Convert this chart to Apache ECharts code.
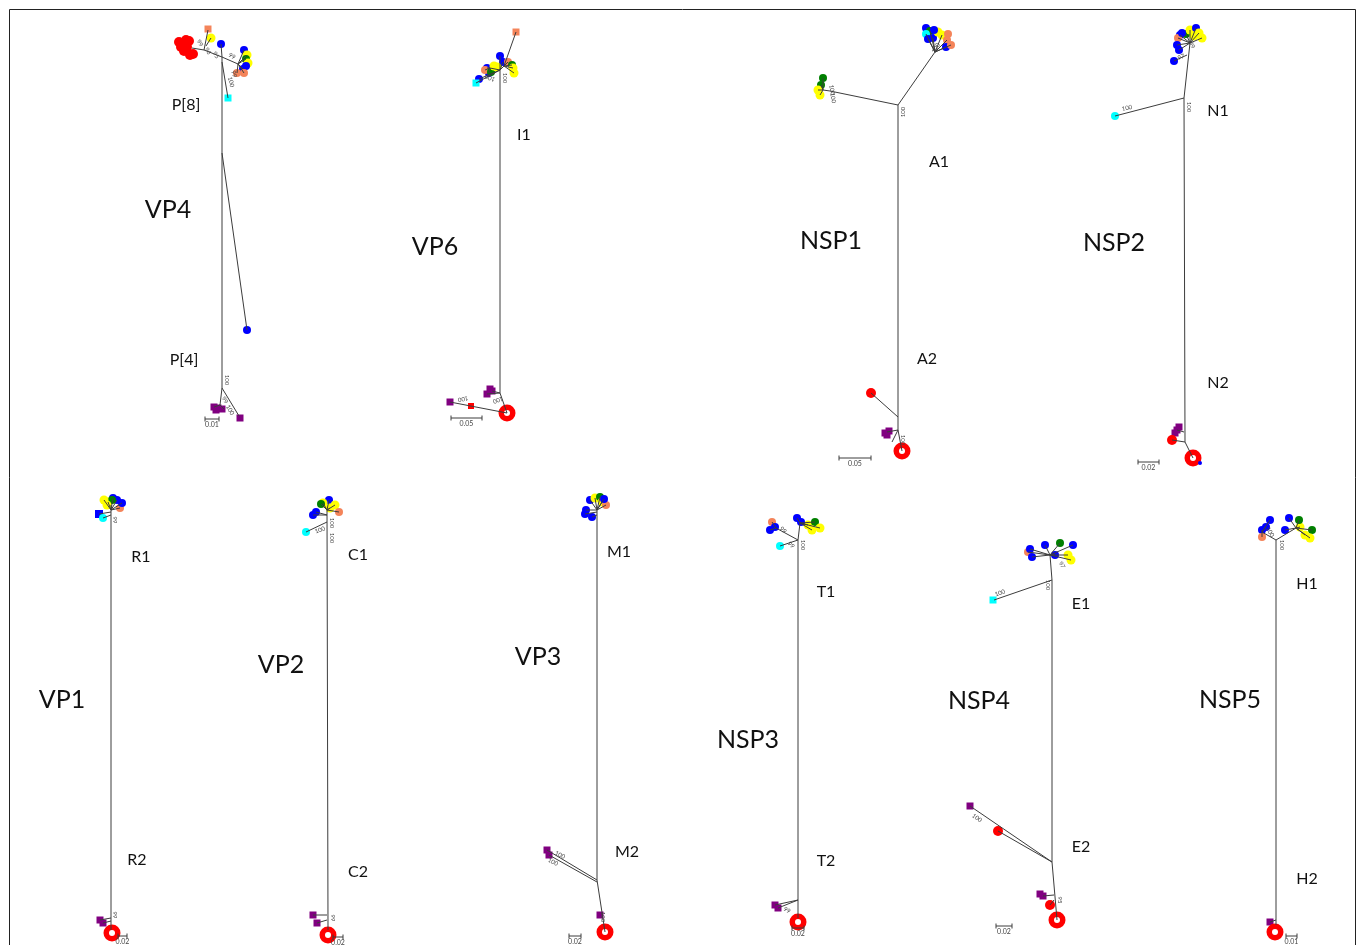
<!DOCTYPE html>
<html>
<head>
<meta charset="UTF-8">
<title>Rotavirus segment trees</title>
<style>html,body{margin:0;padding:0;background:#fff;} #main{width:1360px;height:945px;}</style>
</head>
<body>
<div id="main"></div>
<script src="https://cdn.jsdelivr.net/npm/echarts@6/dist/echarts.min.js"></script>
<script>
// tree geometry per segment, in each panel's own units (x right, y down from the panel origin)
// branches: [x1, y1, x2, y2]   tips: [x, y, key]   bootstrap: [x, y, text, angle]
var vp4Branches = [[0,-43,0,288],[0,53,25,230],[0,-43,-18,-50],[-18,-50,-30,-52],[-18,-50,-14,-70],[-16,-54,-11,-62],[0,-43,-1,-56],[0,-43,16,-36],[16,-36,22,-50],[16,-36,25,-45],[16,-36,24,-41],[16,-36,21,-31],[16,-36,15,-27],[16,-36,22,-27],[0,-38,6,-2],[0,288,-2,305],[0,288,17,316],[-2,305,-8,307],[-2,305,2,309]];
var vp4Tips = [[-39,-56,'R'],[-36,-60,'R'],[-38,-49,'R'],[-32,-45,'R'],[-41,-53,'R'],[-33,-59,'R'],[-29,-46,'R'],[-43,-58,'R'],[-35,-53,'R'],[-14,-71,'Os'],[-11,-62,'Y'],[-1,-56,'B'],[22,-50,'B'],[25,-45,'Y'],[24,-41,'G'],[26,-37,'Y'],[21,-31,'B'],[24,-34,'B'],[15,-27,'O'],[22,-27,'O'],[6,-2,'Cs'],[25,230,'B'],[-8,307,'P'],[-4,308,'P'],[0,309,'P'],[-6,310,'P'],[18,318,'P']];
var vp4Boot = [[5,280,'100',-90],[-22,-57,'99',-60],[-14,-49,'96',-60],[-6,-45,'95',-60],[9,-18,'100',-75],[12,-26,'99',-75],[10,-44,'99',-30],[3,300,'99',-60],[8,310,'100',-60]];
var vp4Labels = [['P[8]',-36,5],['P[4]',-38,260]];
var vp4Gene = ['VP4',-54,110];
var vp4Scale = [-17,-3,319,'0.01'];

var vp6Branches = [[0,-30,0,293],[0,-30,4,-34],[4,-34,16,-68],[0,-30,-24,-17],[0,-30,-10,-32],[-10,-32,-13,-32],[-10,-32,-11,-27],[-10,-32,-15,-30],[0,-30,0,-44],[0,-30,3,-38],[4,-34,8,-38],[4,-34,12,-35],[4,-34,13,-32],[4,-34,14,-27],[0,-30,-21,-21],[0,293,7,313],[7,313,-50,302],[0,293,-8,291],[0,293,-13,294]];
var vp6Tips = [[0,-44,'B'],[3,-38,'B'],[-13,-32,'B'],[-11,-27,'B'],[-15,-30,'O'],[-9,-28,'G'],[-6,-34,'Y'],[-3,-33,'Y'],[8,-38,'O'],[12,-35,'G'],[13,-32,'Y'],[14,-27,'Y'],[-21,-21,'B'],[-24,-17,'Cs'],[16,-68,'Os'],[7,313,'Rc'],[-8,291,'P'],[-13,294,'P'],[-10,289,'P'],[-29,306,'Rs'],[-50,302,'P']];
var vp6Boot = [[-37,299,'100',190],[-2,300,'100',200],[-10,-22,'100',160],[5,-22,'100',-90]];
var vp6Labels = [['I1',24,35]];
var vp6Gene = ['VP6',-65,147];
var vp6Scale = [-49,-18,318,'0.05'];

var nsp1Branches = [[0,5,0,330],[0,330,4,351],[0,5,37,-48],[37,-48,30,-61],[37,-48,28,-66],[37,-48,35,-62],[37,-48,44,-65],[37,-48,49,-60],[37,-48,48,-53],[37,-48,53,-55],[37,-48,32,-69],[0,5,-68,-9],[-68,-9,-75,-10],[-75,-10,-75,-22],[-75,-10,-77,-15],[-75,-10,-80,-10],[-75,-10,-78,-5],[0,317,-27,293],[0,330,-11,332],[0,330,-6,342]];
var nsp1Tips = [[28,-72,'B'],[32,-69,'G'],[28,-66,'C'],[30,-61,'B'],[35,-62,'B'],[40,-68,'Y'],[44,-65,'Y'],[50,-66,'O'],[49,-60,'O'],[48,-53,'B'],[53,-55,'O'],[36,-70,'B'],[-75,-22,'G'],[-77,-15,'G'],[-80,-10,'Y'],[-78,-5,'Y'],[-27,293,'R'],[4,351,'Rc'],[-13,333,'P'],[-9,331,'P'],[-11,335,'P']];
var nsp1Boot = [[5,12,'100',90],[38,-52,'100',60],[-66,-10,'100',-80],[-65,-2,'100',-80],[5,340,'100',-90]];
var nsp1Labels = [['A1',41,62],['A2',29,259]];
var nsp1Gene = ['NSP1',-67,141];
var nsp1Scale = [-59,-27,358,'0.05'];

var nsp2Branches = [[0,-2,1,342],[1,342,9,358],[0,-2,-69,16],[0,-2,6,-57],[3,-45,-10,-39],[6,-57,-4,-65],[6,-57,-6,-62],[6,-57,-7,-55],[6,-57,-5,-50],[6,-57,2,-66],[6,-57,6,-70],[6,-57,12,-72],[6,-57,15,-67],[6,-57,18,-62],[0,332,-7,330],[1,342,-12,340]];
var nsp2Tips = [[-4,-65,'B'],[-6,-62,'O'],[-7,-55,'B'],[-5,-50,'B'],[2,-66,'G'],[6,-70,'Y'],[12,-72,'B'],[15,-67,'Y'],[18,-62,'Y'],[-2,-67,'B'],[10,-64,'Y'],[-10,-39,'B'],[-69,16,'C'],[-7,330,'P'],[-9,333,'P'],[-5,327,'P'],[-12,340,'R'],[9,358,'Rc'],[16,363,'b']];
var nsp2Boot = [[-57,8,'100',12],[5,7,'100',-90],[-3,-43,'97',20],[8,-55,'99',-60]];
var nsp2Labels = [['N1',34,11],['N2',34,283]];
var nsp2Gene = ['NSP2',-70,143];
var nsp2Scale = [-46,-25,362,'0.02'];

var vp1Branches = [[0,-35,0,390],[0,-30,-3,-38],[0,-30,6,-40],[0,-30,9,-32],[0,-28,-12,-26],[0,-25,-8,-22],[0,-30,2,-42],[0,-30,11,-37],[0,-30,-7,-40],[0,378,-11,380],[0,381,-8,383]];
var vp1Tips = [[-3,-38,'Y'],[6,-40,'B'],[9,-32,'O'],[-12,-26,'Bs'],[-8,-22,'C'],[2,-42,'B'],[1,-40,'G'],[-4,-35,'Y'],[11,-37,'B'],[-7,-40,'Y'],[-11,380,'P'],[-8,383,'P'],[1,393,'Rc']];
var vp1Boot = [[4,-20,'99',-90],[4,375,'99',-90]];
var vp1Labels = [['R1',30,17],['R2',26,320]];
var vp1Gene = ['VP1',-49,160];
var vp1Scale = [7,16,396,'0.02'];

var vp2Branches = [[0,-30,1,390],[0,-18,-21,-8],[0,-30,2,-40],[0,-30,-4,-37],[0,-30,-6,-36],[0,-30,8,-35],[0,-30,12,-28],[0,-25,-14,-25],[0,-25,-11,-28],[0,-30,3,-32],[0,375,-14,375],[0,380,-10,383]];
var vp2Tips = [[2,-40,'B'],[-4,-37,'Y'],[-6,-36,'G'],[8,-35,'Y'],[12,-28,'O'],[-14,-25,'B'],[-11,-28,'B'],[3,-32,'Y'],[-21,-8,'C'],[-14,375,'P'],[-10,383,'P'],[1,395,'Rc']];
var vp2Boot = [[-7,-10,'100',20],[5,-17,'100',-90],[5,-2,'100',-90],[6,378,'99',-90]];
var vp2Labels = [['C1',31,15],['C2',31,332]];
var vp2Gene = ['VP2',-46,125];
var vp2Scale = [6,16,397,'0.02'];

var vp3Branches = [[0,-30,0,340],[0,340,8,392],[0,340,-50,310],[0,342,-48,315],[0,-30,-7,-40],[0,-30,-2,-42],[0,-30,3,-43],[0,-30,5,-38],[0,-30,9,-35],[0,-28,-12,-26],[0,-25,-5,-23],[0,-30,7,-41],[0,-30,-11,-30]];
var vp3Tips = [[-7,-40,'B'],[-2,-42,'Y'],[3,-43,'G'],[5,-38,'Y'],[9,-35,'O'],[-12,-26,'B'],[-5,-23,'B'],[7,-41,'B'],[-11,-30,'B'],[-50,310,'P'],[-48,315,'P'],[3,375,'P'],[8,392,'Rc']];
var vp3Boot = [[-37,315,'100',-25],[-44,322,'100',-25],[6,377,'100',-90]];
var vp3Labels = [['M1',22,12],['M2',30,312]];
var vp3Gene = ['VP3',-59,117];
var vp3Scale = [-28,-16,396,'0.02'];

var nsp3Branches = [[0,0,0,378],[0,0,-18,6],[0,0,-22,-12],[-22,-12,-26,-18],[-22,-12,-28,-10],[-22,-12,-23,-13],[0,0,2,-17],[2,-17,-1,-22],[2,-17,10,-15],[2,-17,17,-18],[2,-17,22,-12],[2,-17,3,-18],[2,-17,14,-10],[0,360,-20,368],[0,360,-23,365]];
var nsp3Tips = [[-26,-18,'O'],[-28,-10,'B'],[-23,-13,'B'],[-1,-22,'B'],[10,-15,'Y'],[17,-18,'G'],[22,-12,'Y'],[3,-18,'B'],[14,-10,'Y'],[-18,6,'C'],[-20,368,'P'],[-23,365,'P'],[0,382,'Rc']];
var nsp3Boot = [[-15,-10,'99',-45],[-7,5,'99',-45],[5,5,'100',-90],[-11,370,'99',-30]];
var nsp3Labels = [['T1',28,52],['T2',28,321]];
var nsp3Gene = ['NSP3',-50,200];
var nsp3Scale = [-6,6,388,'0.02'];

var nsp4Branches = [[0,40,0,322],[0,40,-58,60],[0,40,-2,15],[-2,15,-24,12],[-2,15,-20,17],[-2,15,-22,9],[-2,15,-7,5],[-2,15,8,3],[-2,15,16,15],[-2,15,19,20],[-2,15,21,5],[-2,15,3,15],[0,322,-82,266],[0,322,-54,291],[0,322,5,380],[2,355,-9,356],[2,360,-2,365]];
var nsp4Tips = [[-24,12,'O'],[-20,17,'B'],[-22,9,'B'],[-7,5,'B'],[8,3,'G'],[16,15,'Y'],[19,20,'Y'],[21,5,'B'],[3,15,'B'],[-59,60,'Cs'],[-82,266,'P'],[-54,291,'R'],[-9,356,'P'],[-12,354,'P'],[-2,365,'R'],[5,380,'Rc']];
var nsp4Boot = [[-52,53,'100',20],[-4,45,'100',-90],[10,25,'97',-60],[-75,278,'100',-35],[8,360,'95',-90]];
var nsp4Labels = [['E1',29,64],['E2',29,307]];
var nsp4Gene = ['NSP4',-73,161];
var nsp4Scale = [-56,-40,386,'0.02'];

var nsp5Branches = [[0,0,0,385],[0,0,-14,-8],[-14,-8,-14,-10],[-14,-8,-14,-3],[-14,-8,-6,-20],[-14,-8,-10,-13],[0,0,20,-12],[20,-12,13,-22],[20,-12,24,-13],[20,-12,36,-10],[20,-12,29,-5],[20,-12,23,-20],[20,-12,9,-10],[20,-12,34,-2],[0,380,-6,382]];
var nsp5Tips = [[-14,-10,'B'],[-14,-3,'O'],[-6,-20,'B'],[-10,-13,'B'],[13,-22,'B'],[24,-13,'Y'],[36,-10,'G'],[29,-5,'Y'],[23,-20,'G'],[9,-10,'B'],[34,-2,'Y'],[-6,382,'P'],[-1,392,'Rc']];
var nsp5Boot = [[6,5,'100',-90],[-6,-8,'100',-60]];
var nsp5Labels = [['H1',31,44],['H2',31,339]];
var nsp5Gene = ['NSP5',-46,160];
var nsp5Scale = [10,21,396,'0.01'];

// where each panel sits on the page (trunk x, reference y)
var origin = {VP4:[222,100], VP6:[500,100], NSP1:[898,100], NSP2:[1184,100],
  VP1:[111,540], VP2:[327,540], VP3:[597,540], NSP3:[798,540], NSP4:[1052,540], NSP5:[1276,540]};

var tipStyle = {
  R:{c:'#ff0000', s:'circle', z:10}, Rc:{c:'#ff0000', s:'circle', z:17}, Rs:{c:'#ff0000', s:'rect', z:6},
  B:{c:'#0000ff', s:'circle', z:8}, Bs:{c:'#0000ff', s:'rect', z:8}, b:{c:'#0000ff', s:'circle', z:4},
  Y:{c:'#ffff00', s:'circle', z:9}, O:{c:'#f4845a', s:'circle', z:8}, Os:{c:'#f4845a', s:'rect', z:7},
  G:{c:'#008000', s:'circle', z:8}, C:{c:'#00ffff', s:'circle', z:8}, Cs:{c:'#00ffff', s:'rect', z:7},
  P:{c:'#800080', s:'rect', z:7}
};

var panels = [
  ['VP4', vp4Branches, vp4Tips, vp4Boot, vp4Labels, vp4Gene, vp4Scale],
  ['VP6', vp6Branches, vp6Tips, vp6Boot, vp6Labels, vp6Gene, vp6Scale],
  ['NSP1', nsp1Branches, nsp1Tips, nsp1Boot, nsp1Labels, nsp1Gene, nsp1Scale],
  ['NSP2', nsp2Branches, nsp2Tips, nsp2Boot, nsp2Labels, nsp2Gene, nsp2Scale],
  ['VP1', vp1Branches, vp1Tips, vp1Boot, vp1Labels, vp1Gene, vp1Scale],
  ['VP2', vp2Branches, vp2Tips, vp2Boot, vp2Labels, vp2Gene, vp2Scale],
  ['VP3', vp3Branches, vp3Tips, vp3Boot, vp3Labels, vp3Gene, vp3Scale],
  ['NSP3', nsp3Branches, nsp3Tips, nsp3Boot, nsp3Labels, nsp3Gene, nsp3Scale],
  ['NSP4', nsp4Branches, nsp4Tips, nsp4Boot, nsp4Labels, nsp4Gene, nsp4Scale],
  ['NSP5', nsp5Branches, nsp5Tips, nsp5Boot, nsp5Labels, nsp5Gene, nsp5Scale]
];

var FONT = 'Lato, "Open Sans", sans-serif';
var LINE = '#3c3c3c';
var PAGE_W = 1360;

function textSeries(i, rows, pick, font, color, z) {
  return {
    type: 'custom', xAxisIndex: i, yAxisIndex: i, z: z, silent: true,
    data: rows.map(function (r) { var p = pick(r); return [p[0], p[1]]; }),
    renderItem: function (params, api) {
      var p = pick(rows[params.dataIndex]);
      var pt = api.coord([p[0], p[1]]);
      return {
        type: 'text', x: pt[0], y: pt[1], rotation: (p[3] || 0) * Math.PI / 180,
        style: { text: p[2], font: font, fill: color, align: 'center', verticalAlign: 'middle',
                 textAlign: 'center', textVerticalAlign: 'middle' }
      };
    }
  };
}

var grids = [], xAxes = [], yAxes = [], series = [];
panels.forEach(function (p, i) {
  var o = origin[p[0]];
  // keep every grid inside the page so the 1 unit = 1 px mapping holds
  var hw = Math.min(100, o[0] - 2, PAGE_W - o[0] - 2);
  grids.push({ left: o[0] - hw, top: o[1] - 100, width: 2 * hw, height: 505 });
  xAxes.push({ type: 'value', gridIndex: i, min: -hw, max: hw, show: false });
  yAxes.push({ type: 'value', gridIndex: i, min: -100, max: 405, inverse: true, show: false });

  // tips
  series.push({
    type: 'scatter', xAxisIndex: i, yAxisIndex: i, z: 2, silent: true, clip: false,
    data: p[2].map(function (t) {
      var st = tipStyle[t[2]];
      return { value: [t[0], t[1]], symbol: st.s, symbolSize: st.z, itemStyle: { color: st.c, opacity: 1 } };
    })
  });
  // white centre of the collapsed red clades
  series.push({
    type: 'scatter', xAxisIndex: i, yAxisIndex: i, z: 3, silent: true, clip: false,
    symbolSize: 6, itemStyle: { color: '#fff', opacity: 1 },
    data: p[2].filter(function (t) { return t[2] === 'Rc'; }).map(function (t) { return [t[0], t[1]]; })
  });
  // branches
  series.push({
    type: 'custom', xAxisIndex: i, yAxisIndex: i, z: 4, silent: true,
    encode: { x: [0, 2], y: [1, 3] },
    data: p[1],
    renderItem: function (params, api) {
      var a = api.coord([api.value(0), api.value(1)]);
      var b = api.coord([api.value(2), api.value(3)]);
      return { type: 'line', shape: { x1: a[0], y1: a[1], x2: b[0], y2: b[1] },
               style: { stroke: LINE, lineWidth: 1 } };
    }
  });
  // bootstrap values
  series.push(textSeries(i, p[3], function (r) { return [r[0], r[1], r[2], r[3]]; }, '6px ' + FONT, '#444', 5));
  // genotype labels
  series.push(textSeries(i, p[4], function (r) { return [r[1], r[2], r[0], 0]; }, '16px ' + FONT, '#111', 5));
  // gene name
  series.push(textSeries(i, [p[5]], function (r) { return [r[1], r[2], r[0], 0]; }, '25px ' + FONT, '#111', 5));
  // scale bar
  var sc = p[6];
  series.push({
    type: 'custom', xAxisIndex: i, yAxisIndex: i, z: 5, silent: true,
    data: [[sc[0], sc[2]]],
    renderItem: function (params, api) {
      var a = api.coord([sc[0], sc[2]]);
      var b = api.coord([sc[1], sc[2]]);
      var s = { stroke: LINE, lineWidth: 1 };
      return { type: 'group', children: [
        { type: 'line', shape: { x1: a[0], y1: a[1], x2: b[0], y2: b[1] }, style: s },
        { type: 'line', shape: { x1: a[0], y1: a[1] - 2.5, x2: a[0], y2: a[1] + 2.5 }, style: s },
        { type: 'line', shape: { x1: b[0], y1: b[1] - 2.5, x2: b[0], y2: b[1] + 2.5 }, style: s },
        { type: 'text', x: (a[0] + b[0]) / 2, y: a[1] + 6,
          style: { text: sc[3], font: '7px ' + FONT, fill: '#444', align: 'center', verticalAlign: 'middle',
                   textAlign: 'center', textVerticalAlign: 'middle' } }
      ] };
    }
  });
});

var chart = echarts.init(document.getElementById('main'));
chart.setOption({
  backgroundColor: '#fff',
  animation: false,
  grid: grids,
  xAxis: xAxes,
  yAxis: yAxes,
  series: series,
  graphic: [{
    type: 'rect', silent: true, z: 10,
    shape: { x: 9.5, y: 9.5, width: 1346, height: 945 },
    style: { fill: 'none', stroke: '#222', lineWidth: 1 }
  }]
});
</script>
</body>
</html>
